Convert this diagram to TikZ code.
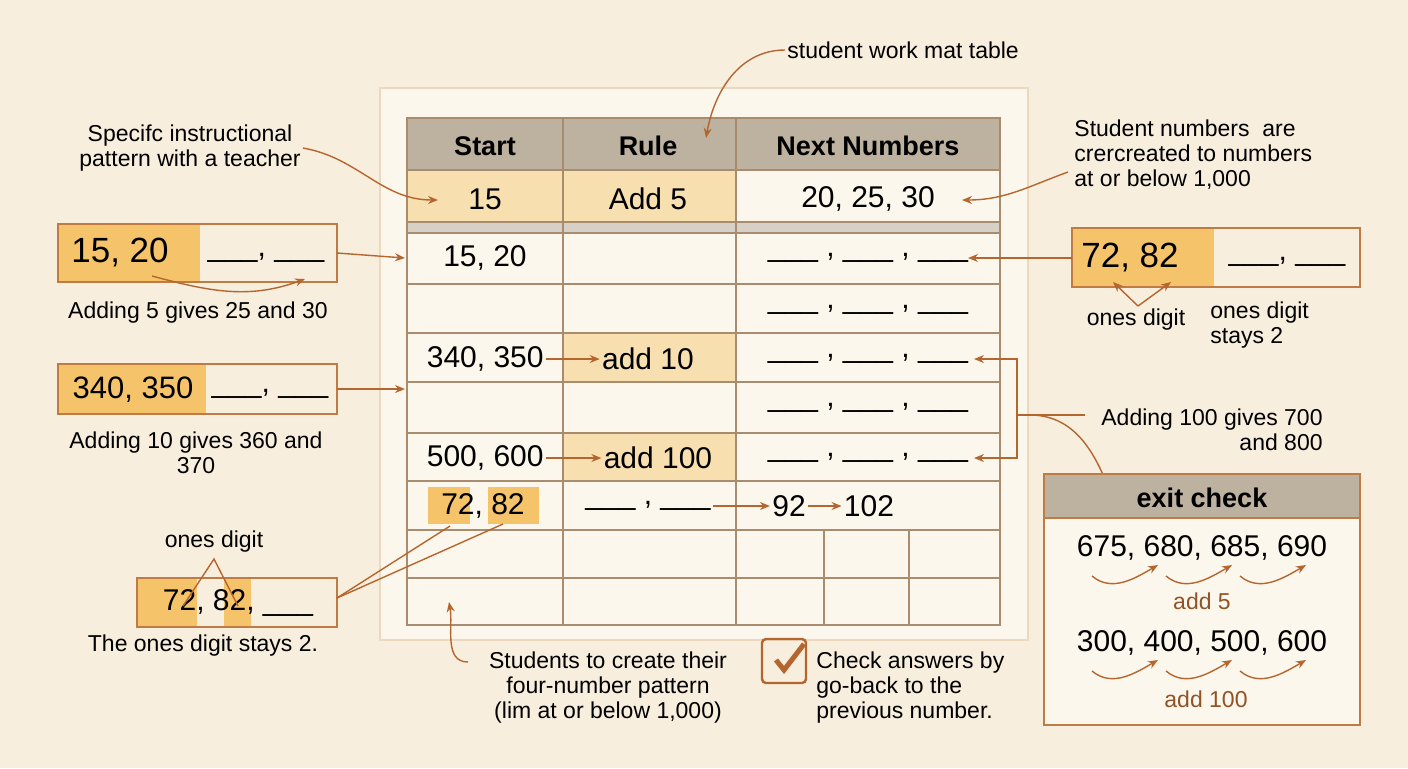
\documentclass[tikz,border=0pt]{standalone}
\usepackage{fontspec}
\setmainfont{Liberation Sans}
\usetikzlibrary{arrows.meta}
\definecolor{bg}{HTML}{F7EEDD}
\definecolor{paper}{HTML}{FCF7EC}
\definecolor{ln}{HTML}{A98B6E}
\definecolor{hd}{HTML}{BDB1A0}
\definecolor{org}{HTML}{F5C46A}
\definecolor{lorg}{HTML}{F7DFAF}
\definecolor{arr}{HTML}{B5662F}
\definecolor{brd}{HTML}{C07B45}
\begin{document}
\begin{tikzpicture}[x=0.5pt,y=-0.5pt,
 a/.style={draw=arr,line width=0.7pt,-{Stealth[length=5pt,width=4pt]}},
 l/.style={draw=arr,line width=0.7pt},
 t/.style={font=\fontsize{11.5}{12.5}\selectfont,align=center,inner sep=1pt},
 n/.style={font=\fontsize{15}{16}\selectfont,inner sep=1pt},
 h/.style={font=\fontsize{13.5}{14}\selectfont\bfseries,inner sep=1pt},
 bx/.style={draw=brd,line width=0.8pt}]
\fill[bg] (0,0) rectangle (1408,768);
\useasboundingbox (0,0) rectangle (1408,768);
% paper
\fill[paper,draw=bg!80!brown,line width=0.8pt] (380,88) rectangle (1028,640);
% table fills
\fill[hd] (407,118) rectangle (1000,170);
\fill[lorg] (407,170) rectangle (736,222);
\fill[hd!60] (407,222) rectangle (1000,233);
\fill[lorg] (563,333) rectangle (736,382);
\fill[lorg] (563,433) rectangle (736,481);
\fill[org] (428,487) rectangle (470,524);
\fill[org] (488,487) rectangle (539,524);
\draw[ln,line width=0.8pt] (407,118) rectangle (1000,625);
\foreach \y in {170,222,233,284,333,382,433,481,530,578} \draw[ln,line width=0.8pt] (407,\y)--(1000,\y);
\foreach \x in {563,736} \draw[ln,line width=0.8pt] (\x,118)--(\x,625);
\foreach \x in {824,909} \draw[ln,line width=0.8pt] (\x,530)--(\x,625);
\node[h] (hs) at (485,146) {Start};
\node[h] (hr) at (648,146) {Rule};
\node[h] (hn) at (868,146) {Next Numbers};
\node[n] (c15) at (485,199) {15};
\node[n] (cadd5) at (648,199) {Add 5};
\node[n] (cnext) at (868,199) {20, 25, 30};
\node[n] (r1) at (485,258) {15, 20};
\node[n,anchor=east] (r3) at (546,359) {340, 350};
\node[n] (r3b) at (648,359) {add 10};
\node[n,anchor=east] (r5) at (546,458) {500, 600};
\node[n] (r5b) at (658,458) {add 100};
\node[n] (r6) at (483,506) {72, 82};
\node[n] (r6b) at (648,506) {\_\_\_\ , \_\_\_};
\node[n] (r692) at (789,506) {92};
\node[n] (r6102) at (869,506) {102};
\foreach \y/\nm in {258/b1,310/b2,359/b3,408/b4,458/b5} \node[n] (\nm) at (868,\y) {\_\_\_\ , \_\_\_\ , \_\_\_};
\draw[a] (r3.east)--(r3b.west);
\draw[a] (r5.east)--(r5b.west);
\draw[a] (r6b.east)--(r692.west);
\draw[a] (r692.east)--(r6102.west);
% top label
\node[t,anchor=west] (tl) at (785,50) {student work mat table};
\draw[a] (tl.west) to[out=180,in=80] (706,138);
\node[t] (spec) at (190,148) {Specifc instructional\\pattern with a teacher};
\draw[a] (spec.east) to[out=-10,in=180] (438,200);
\node[t,align=left,anchor=west] (stn) at (1072,155) {Student numbers\ \ are\\crercreated to numbers\\at or below 1,000};
\coordinate (sa) at (1068,172);
\draw[a] (sa) to[out=200,in=0] (962,200);
% left box 1
\fill[org] (58,224) rectangle (200,282);
\draw[bx,fill=none] (58,224) rectangle (337,282);
\node[font=\fontsize{17.5}{18}\selectfont,inner sep=1pt] (lb1) at (120,253) {15, 20};
\node[n] (lb1b) at (266,258) {\_\_\_, \_\_\_};
\coordinate (lb1e) at (337,253);
\draw[a] (lb1e)--(r1.west -| 405,258);
\draw[a] (152,276) to[out=-15,in=200] (305,279);
\node[t] at (198,313) {Adding 5 gives 25 and 30};
% left box 2
\fill[org] (58,364) rectangle (206,414);
\draw[bx] (58,364) rectangle (337,414);
\node[font=\fontsize{15.5}{16}\selectfont,inner sep=1pt] (lb2) at (133,390) {340, 350};
\node[n] (lb2b) at (270,394) {\_\_\_, \_\_\_};
\coordinate (lb2e) at (337,389);
\coordinate (lb2t) at (405,389);
\draw[a] (lb2e)--(lb2t);
\node[t] at (196,453) {Adding 10 gives 360 and\\370};
% left box 3
\fill[org] (137,578) rectangle (197,627);
\fill[org] (224,578) rectangle (251,627);
\draw[bx] (137,578) rectangle (337,627);
\node[n] (lb3) at (238,603) {72, 82, \_\_\_};
\node[t] (od) at (214,542) {ones digit};
\draw[l] (183,606)--(214,559)--(238,606);
\coordinate (lb3e) at (337,598);
\draw[l] (lb3e)--(450,526);
\draw[l] (lb3e)--(503,524);
\node[t] at (203,646) {The ones digit stays 2.};
% right box
\fill[org] (1072,228) rectangle (1214,287);
\draw[bx] (1072,228) rectangle (1360,287);
\node[font=\fontsize{17.5}{18}\selectfont,inner sep=1pt] (rb) at (1130,258) {72, 82};
\node[n] (rbb) at (1287,262) {\_\_\_, \_\_\_};
\draw[a] (1072,258)--(968,258);
\draw[a] (1138,306)--(1113,282);
\draw[a] (1138,306)--(1171,282);
\node[t] at (1136,320) {ones digit};
\node[t,align=left,anchor=west] at (1208,325) {ones digit\\stays 2};
% bracket
\draw[l] (1000,359)--(1017,359)--(1017,458)--(1000,458);
\draw[a] (1000,359)--(974,359);
\draw[a] (1000,458)--(974,458);
\node[t,align=right] (a100) at (1212,430) {Adding 100 gives 700\\and 800};
\draw[l] (1017,415)--(1085,415);
\draw[a] (1030,415) to[out=0,in=110] (1114,503);
% exit check
\fill[paper] (1044,474) rectangle (1360,725);
\fill[hd] (1044,474) rectangle (1360,518);
\draw[bx] (1044,474) rectangle (1360,725);
\draw[bx] (1044,518)--(1360,518);
\node[h] (ex) at (1202,498) {exit check};
\node[n] (e1) at (1202,548) {675, 680, 685, 690};
\foreach \s in {0,74,148} \draw[a] (1092+\s,576) to[out=-40,in=210] (1158+\s,565);
\node[t,text=arr!80!black] at (1202,601) {add 5};
\node[n] (e2) at (1202,643) {300, 400, 500, 600};
\foreach \s in {0,74,148} \draw[a] (1092+\s,671) to[out=-40,in=210] (1158+\s,660);
\node[t,text=arr!80!black] at (1206,699) {add 100};
% bottom notes
\node[t] (stc) at (608,688) {Students to create their\\four-number pattern\\(lim at or below 1,000)};
\draw[a] (468,662) to[out=180,in=-80] (449,602);
\node[draw=arr,line width=1.2pt,rounded corners=2pt,minimum size=22pt,inner sep=0pt] (ck) at (784,661) {};
\draw[arr,line width=2.5pt] (776,660)--(784,670)--(804,644);
\node[t,align=left,anchor=west] at (814,688) {Check answers by\\go-back to the\\previous number.};
\end{tikzpicture}
\end{document}
